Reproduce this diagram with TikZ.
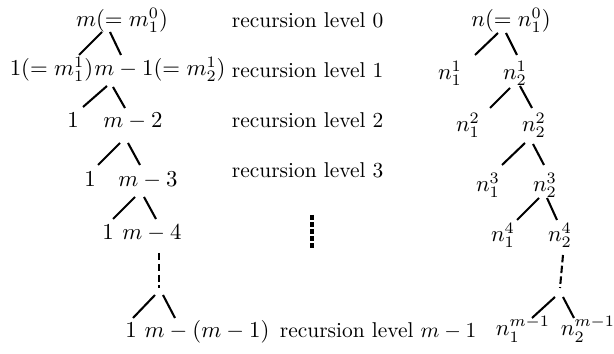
\documentclass[tikz,border=0pt]{standalone}
\begin{document}
\begin{tikzpicture}[x=0.483pt,y=-0.483pt,
  lbl/.style={inner sep=0pt,outer sep=0pt,anchor=base,scale=1.1},
  rl/.style={inner sep=0pt,outer sep=0pt,anchor=base west,scale=1.035},
  edge/.style={line width=1pt},
  dashedge/.style={line width=1pt,dash pattern=on 3.6pt off 1.6pt},
  vdots/.style={line width=2.4pt,dash pattern=on 2.2pt off 1.2pt}]
\useasboundingbox (0,0) rectangle (614,354);
% left tree
\node[lbl] (L0) at (122,27) {$m(=m_1^0)$};
\node[lbl] (L1a) at (51.5,76) {$1(=m_1^1)$};
\node[lbl] (L1b) at (160,76) {$m-1(=m_2^1)$};
\node[lbl] (L2a) at (73,128) {$1$};
\node[lbl] (L2b) at (133,128) {$m-2$};
\node[lbl] (L3a) at (90,187) {$1$};
\node[lbl] (L3b) at (148,187) {$m-3$};
\node[lbl] (L4a) at (108,240) {$1$};
\node[lbl] (L4b) at (152,240) {$m-4$};
\node[lbl] (L5a) at (131,338) {$1$};
\node[lbl] (L5b) at (207,338) {$m-(m-1)$};
\draw[edge] (102,32) -- (79,55);
\draw[edge] (110,32) -- (121,55);
\draw[edge] (107,86) -- (83,107);
\draw[edge] (113,87) -- (125,108);
\draw[edge] (120,143) -- (98,165);
\draw[edge] (128,143) -- (140,165);
\draw[edge] (135,197) -- (113,219);
\draw[edge] (144,197) -- (156,219);
\draw[dashedge] (159,253) -- (159,288);
\draw[edge] (155,295) -- (133,318);
\draw[edge] (163,295) -- (175,318);
% middle labels
\node[rl] (R0l) at (232,28) {recursion level 0};
\node[rl] (R1l) at (232,78) {recursion level 1};
\node[rl] (R2l) at (232,128) {recursion level 2};
\node[rl] (R3l) at (232,178) {recursion level 3};
\node[rl] (Rml) at (280,338) {recursion level $m-1$};
\draw[vdots] (312,215) -- (312,249);
% right tree
\node[lbl] (N0) at (511,27) {$n(=n_1^0)$};
\node[lbl] (N1a) at (450,80) {$n_1^1$};
\node[lbl] (N1b) at (515,80) {$n_2^1$};
\node[lbl] (N2a) at (468,132) {$n_1^2$};
\node[lbl] (N2b) at (534,132) {$n_2^2$};
\node[lbl] (N3a) at (488,192) {$n_1^3$};
\node[lbl] (N3b) at (545,192) {$n_2^3$};
\node[lbl] (N4a) at (503,242) {$n_1^4$};
\node[lbl] (N4b) at (560,242) {$n_2^4$};
\node[lbl] (N5a) at (523,336) {$n_1^{m-1}$};
\node[lbl] (N5b) at (588,336) {$n_2^{m-1}$};
\draw[edge] (498,33) -- (475,55);
\draw[edge] (506,33) -- (517,55);
\draw[edge] (510,88) -- (490,108);
\draw[edge] (520,86) -- (532,108);
\draw[edge] (525,143) -- (502,165);
\draw[edge] (533,144) -- (544,165);
\draw[edge] (539,198) -- (517,220);
\draw[edge] (547,198) -- (557,220);
\draw[dashedge] (563,255) -- (560,288);
\draw[edge] (555,297) -- (532,318);
\draw[edge] (563,297) -- (574,318);
\end{tikzpicture}
\end{document}
